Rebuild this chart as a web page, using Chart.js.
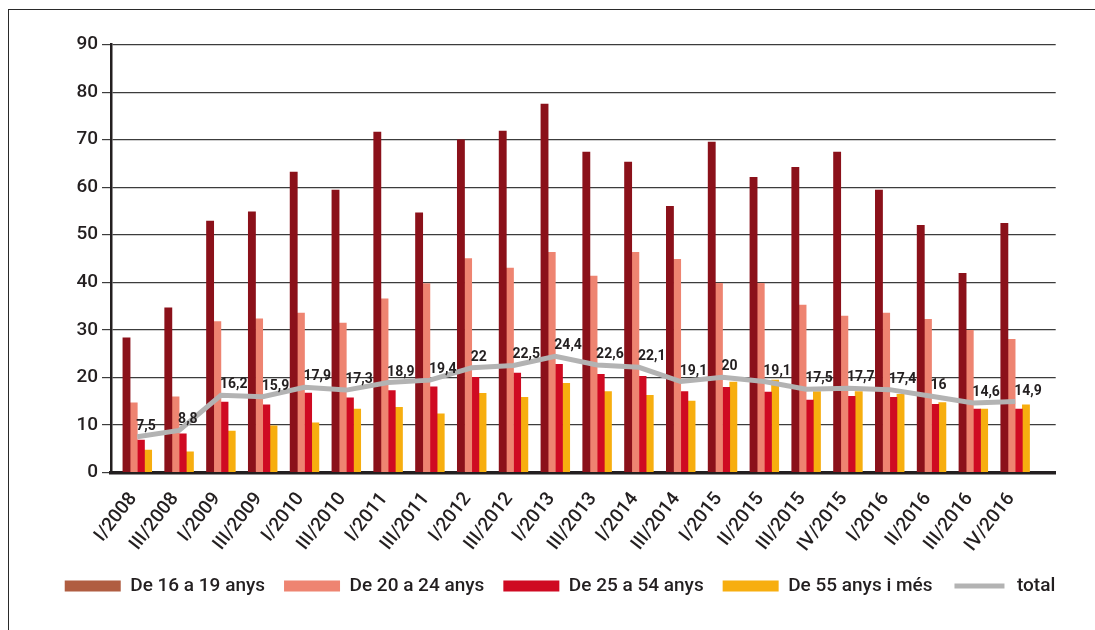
<!DOCTYPE html>
<html><head><meta charset="utf-8">
<script src="https://cdn.jsdelivr.net/npm/chart.js@4.4.1/dist/chart.umd.min.js"></script>
<style>
html,body{margin:0;padding:0;background:#fff;}
#wrap{position:relative;width:1095px;height:630px;overflow:hidden;background:#fff;}
#frame{position:absolute;left:8px;top:9px;right:-4px;bottom:-4px;border-left:1.5px solid #2a2a2a;border-top:1.5px solid #2a2a2a;pointer-events:none;}
canvas{position:absolute;left:0;top:0;}
</style></head><body>
<div id="wrap"><canvas id="c" width="1095" height="630"></canvas><div id="frame"></div></div>
<script>
const periods = ['I/2008','III/2008','I/2009','III/2009','I/2010','III/2010','I/2011','III/2011','I/2012','III/2012','I/2013','III/2013','I/2014','III/2014','I/2015','II/2015','III/2015','IV/2015','I/2016','II/2016','III/2016','IV/2016'];
const age16to19 = [28.3,34.6,52.9,54.8,63.2,59.4,71.6,54.6,70.0,71.8,77.5,67.4,65.3,56.0,69.5,62.1,64.2,67.4,59.4,52.0,41.9,52.4];
const age20to24 = [14.6,15.9,31.7,32.3,33.5,31.4,36.5,39.7,45.0,43.0,46.3,41.3,46.3,44.8,39.8,39.8,35.2,32.9,33.5,32.2,29.9,28.0];
const age25to54 = [6.8,8.1,14.8,14.2,16.7,15.7,17.2,18.0,20.0,20.9,22.7,20.6,20.2,17.0,17.9,16.9,15.2,16.0,15.8,14.3,13.3,13.3];
const age55plus = [4.7,4.3,8.7,9.8,10.4,13.3,13.7,12.3,16.6,15.8,18.7,17.0,16.2,15.0,19.0,19.4,17.0,17.0,16.4,14.7,13.3,14.2];
const totalValues = [7.5,8.8,16.2,15.9,17.9,17.3,18.9,19.4,22,22.5,24.4,22.6,22.1,19.1,20,19.1,17.5,17.7,17.4,16,14.6,14.9];
const seriesNames = ['De 16 a 19 anys','De 20 a 24 anys','De 25 a 54 anys','De 55 anys i més','total'];
const yTicks = [0,10,20,30,40,50,60,70,80,90];

const TXT = '#231f20';
Chart.defaults.font.family = 'Roboto, "Noto Sans", sans-serif';
Chart.defaults.color = TXT;

const toXY = arr => arr.map((v,i)=>({x:i,y:v}));

const totalLabels = {
  id:'totalLabels',
  afterDatasetsDraw(chart){
    const meta = chart.getDatasetMeta(4);
    const ctx = chart.ctx;
    ctx.save();
    ctx.font = '700 14px Roboto, sans-serif';
    ctx.fillStyle = TXT;
    ctx.textAlign = 'left';
    ctx.textBaseline = 'alphabetic';
    meta.data.forEach((pt,i)=>{
      ctx.fillText(String(totalValues[i]).replace('.',','), pt.x - 1, pt.y - 7);
    });
    ctx.restore();
  }
};

new Chart(document.getElementById('c'), {
  type:'bar',
  data:{
    datasets:[
      {label:seriesNames[0], data:toXY(age16to19), backgroundColor:'#8b111a', order:1, barThickness:7.2},
      {label:seriesNames[1], data:toXY(age20to24), backgroundColor:'#ee8471', order:1, barThickness:7.2},
      {label:seriesNames[2], data:toXY(age25to54), backgroundColor:'#cf0a22', order:1, barThickness:7.2},
      {label:seriesNames[3], data:toXY(age55plus), backgroundColor:'#f7ae0f', order:1, barThickness:7.2},
      {type:'line', label:seriesNames[4], data:toXY(totalValues), borderColor:'#b3b3b3', backgroundColor:'#b3b3b3', borderWidth:5, pointRadius:0, tension:0, order:0}
    ]
  },
  options:{
    responsive:false,
    devicePixelRatio:1,
    animation:false,
    layout:{padding:{left:25, top:44.7, right:0, bottom:24.5}},
    scales:{
      x:{
        type:'linear',
        offset:false,
        min:-0.629, max:21.97,
        afterBuildTicks: s => { s.ticks = periods.map((_,i)=>({value:i})); },
        afterFit: s => { s.height = 85.2; },
        grid:{display:false, drawTicks:false, offset:false},
        border:{display:true, color:'#231f20', width:3.5},
        ticks:{
          autoSkip:false, minRotation:52, maxRotation:52, padding:16, labelOffset:-4,
          font:{size:19, weight:'500'}, color:TXT,
          callback: v => periods[v]
        }
      },
      y:{
        min:0, max:90,
        afterBuildTicks: s => { s.ticks = yTicks.map(v=>({value:v})); },
        afterFit: s => { s.width = 86; },
        grid:{color:'#3c3c3c', lineWidth:1.2, tickLength:9, drawTicks:true},
        border:{display:true, color:'#231f20', width:2.5},
        ticks:{padding:4, font:{size:19, weight:'500'}, color:TXT}
      },
      y2:{
        position:'right', display:true,
        grid:{display:false}, border:{display:false}, ticks:{display:false},
        afterFit: s => { s.width = 39.3; }
      }
    },
    plugins:{
      tooltip:{enabled:false},
      legend:{
        position:'bottom',
        labels:{
          boxWidth:56, boxHeight:11, padding:19,
          font:{size:19, weight:'500'}, color:TXT,
          sort:(a,b)=>a.datasetIndex-b.datasetIndex,
          generateLabels(chart){
            const items = Chart.defaults.plugins.legend.labels.generateLabels(chart);
            items.forEach(it=>{
              it.lineWidth = 0;
              if(it.datasetIndex===0) it.fillStyle = '#b05d41';
              if(it.datasetIndex===4){ it.fillStyle = '#b3b3b3'; it.strokeStyle = '#ffffff'; it.lineWidth = 6; it.borderRadius = 3; }
            });
            return items;
          }
        }
      }
    }
  },
  plugins:[totalLabels]
});
</script>
</body></html>
